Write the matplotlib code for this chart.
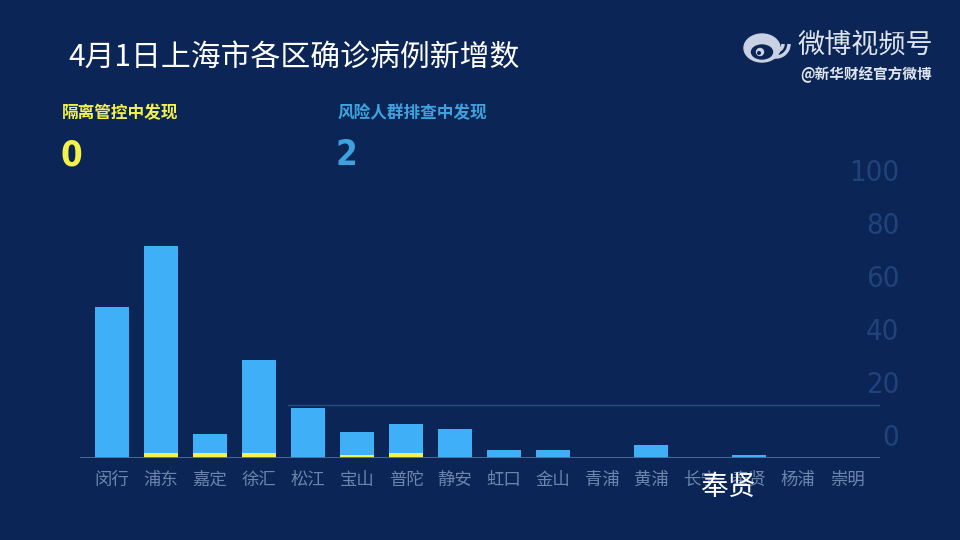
import numpy as np
import matplotlib
matplotlib.use('Agg')
import matplotlib.pyplot as plt
from matplotlib.patches import Ellipse, Circle, Arc

plt.rcParams['font.family'] = ['Noto Sans CJK SC', 'DejaVu Sans']

# data (animation frame)
districts = ['闵行', '浦东', '嘉定', '徐汇', '松江', '宝山', '普陀', '静安',
             '虹口', '金山', '青浦', '黄浦', '长宁', '奉贤', '杨浦', '崇明']
total = [57, 80, 9, 37, 19, 10, 13, 11, 3, 3, 0, 5, 0, 1, 0, 0]
quarantine = [0, 2, 2, 2, 0, 1, 2, 0, 0, 0, 0, 0, 0, 0, 0, 0]
yticks = [0, 20, 40, 60, 80, 100]
title = '4月1日上海市各区确诊病例新增数'
highlight = '奉贤'

bg = '#0b2656'
blue = '#3fb0f7'
yellow = '#f4f24a'
label_col = '#6d84ad'
faint = '#21427a'
num_font = ['DejaVu Sans Condensed', 'Liberation Sans Narrow', 'DejaVu Sans']

fig = plt.figure(figsize=(9.6, 5.4), dpi=100, facecolor=bg)

# main bar axes
W, H = 960., 540.
ax = fig.add_axes([80/W, (540-458)/H, 800/W, 265/H])
ax.set_facecolor('none')
x = np.arange(len(districts))
base = np.array(total) - np.array(quarantine)
ax.bar(x, quarantine, width=0.7, color=yellow, zorder=3)
ax.bar(x, base, width=0.7, bottom=quarantine, color=blue, zorder=3)
ax.set_xlim(-0.65, 15.67)
ax.set_ylim(0, 100)
ax.axhline(0, color='#4d6c9c', lw=1.3, zorder=4)
ax.axhline(20, xmin=0.26, color='#284a80', lw=1, zorder=1)
ax.set_xticks(x)
ax.set_xticklabels(districts, fontsize=12.5, color=label_col)
ax.tick_params(axis='x', length=0, pad=9)
ax.set_yticks([])
for s in ax.spines.values():
    s.set_visible(False)

# faded value axis on the right (offset, mid-transition)
ax2 = fig.add_axes([80/W, (540-435)/H, 800/W, 265/H])
ax2.set_facecolor('none')
ax2.set_ylim(0, 100)
ax2.set_xticks([])
ax2.yaxis.tick_right()
ax2.set_yticks(yticks)
ax2.set_yticklabels([str(v) for v in yticks], fontsize=21, color=faint,
                    family=num_font, stretch='condensed', weight='light')
for lab in ax2.get_yticklabels():
    lab.set_ha('right')
ax2.tick_params(axis='y', length=0, pad=14)
for s in ax2.spines.values():
    s.set_visible(False)

# overlay for texts and logo, pixel coordinates
ov = fig.add_axes([0, 0, 1, 1])
ov.set_xlim(0, W)
ov.set_ylim(H, 0)
ov.axis('off')

ov.text(68, 57, title, fontsize=21.5, color='white', va='center', ha='left')
ov.text(62, 113, '隔离管控中发现', fontsize=12, color=yellow, weight='bold', va='center')
ov.text(60, 155, '0', fontsize=25, color=yellow, weight='bold', va='center',
        family=num_font, stretch='condensed')
ov.text(338, 113, '风险人群排查中发现', fontsize=12, color='#3ea2df', weight='bold', va='center')
ov.text(336, 155, '2', fontsize=25, color='#3ea2df', weight='bold', va='center',
        family=num_font, stretch='condensed')

ov.text(728, 487, highlight, fontsize=20, color='white', ha='center', va='center', zorder=5)

# weibo mark
logo = '#c8d2e2'
ov.add_patch(Ellipse((762, 48), 36, 28, color=logo))
ov.add_patch(Ellipse((762, 52), 21, 14, color=bg))
ov.add_patch(Circle((760, 52), 3.5, color=logo))
ov.add_patch(Circle((759, 53), 1.3, color=bg))
ov.add_patch(Arc((776, 44), 14, 14, theta1=0, theta2=100, color=logo, lw=2.5))
ov.add_patch(Arc((776, 44), 26, 26, theta1=0, theta2=100, color=logo, lw=2.5))
ov.text(798, 45, '微博视频号', fontsize=19.5, color='#dfe5ee', va='center')
ov.text(932, 75, '@新华财经官方微博', fontsize=10.5, color='#dfe5ee', weight='bold',
        ha='right', va='center')

fig.savefig('out.png', dpi=100, facecolor=bg)
